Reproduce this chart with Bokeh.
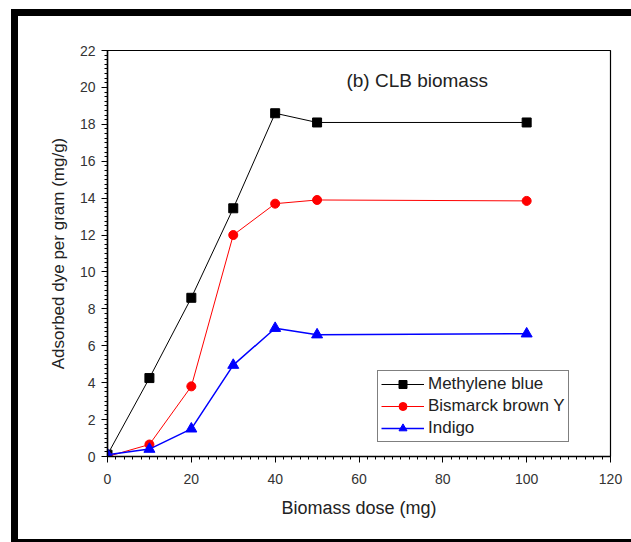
from bokeh.plotting import figure
from bokeh.models import SingleIntervalTicker, Label, Legend, LegendItem
from bokeh.embed import file_html
from bokeh.resources import INLINE

# ---- data ----
dose = [0, 10, 20, 30, 40, 50, 100]
methylene_blue = [0.1, 4.25, 8.6, 13.45, 18.6, 18.1, 18.1]
bismarck_brown = [0.0, 0.65, 3.8, 12.0, 13.7, 13.9, 13.85]
indigo = [0.1, 0.4, 1.5, 4.95, 6.95, 6.6, 6.65]

x_ticks_interval = 20
y_ticks_interval = 2
title_text = "(b) CLB biomass"
x_label = "Biomass dose (mg)"
y_label = "Adsorbed dye per gram (mg/g)"

FONT = "Liberation Sans"

p = figure(width=620, height=533, x_range=(0, 120), y_range=(0, 22),
           output_backend="svg", toolbar_location=None,
           min_border_left=89, min_border_right=28,
           min_border_top=34, min_border_bottom=93)
p.styles = {"margin-left": "11px", "margin-top": "9px", "overflow": "hidden",
            "border-left": "7px solid black", "border-top": "7px solid black",
            "border-bottom": "3px solid black"}

p.grid.visible = False
p.outline_line_color = "black"
p.outline_line_width = 1.2
p.background_fill_color = "white"
p.border_fill_color = "white"

p.xaxis.ticker = SingleIntervalTicker(interval=x_ticks_interval, num_minor_ticks=10)
p.yaxis.ticker = SingleIntervalTicker(interval=y_ticks_interval, num_minor_ticks=8)

for ax in (p.xaxis[0], p.yaxis[0]):
    ax.axis_line_color = "black"
    ax.axis_line_width = 1.5
    ax.major_tick_line_color = "black"
    ax.minor_tick_line_color = "black"
    ax.major_tick_in = 0
    ax.major_tick_out = 6
    ax.minor_tick_in = 0
    ax.minor_tick_out = 3
    ax.major_label_text_font = FONT
    ax.major_label_text_font_size = "14px"
    ax.major_label_text_color = "#333333"
    ax.axis_label_text_font = FONT
    ax.axis_label_text_font_style = "normal"
    ax.axis_label_text_color = "#222222"

p.xaxis.axis_label = x_label
p.yaxis.axis_label = y_label
p.xaxis.axis_label_text_font_size = "18px"
p.yaxis.axis_label_text_font_size = "17px"
p.xaxis.major_label_standoff = 11
p.yaxis.major_label_standoff = 6
p.xaxis.axis_label_standoff = 11
p.yaxis.axis_label_standoff = 9

series = [
    ("Methylene blue", methylene_blue, "black", "square", 9, 1.0),
    ("Bismarck brown Y", bismarck_brown, "red", "circle", 9, 1.0),
    ("Indigo", indigo, "blue", "triangle", 11, 1.5),
]

items = []
for name, ys, color, marker, size, lw in series:
    r1 = p.line(dose, ys, line_color=color, line_width=lw)
    r2 = p.scatter(dose, ys, marker=marker, size=size, fill_color=color, line_color=color)
    items.append(LegendItem(label=name, renderers=[r1, r2]))

legend = Legend(items=items, location=(270, 14))
legend.label_text_font = FONT
legend.label_text_font_size = "17px"
legend.label_text_color = "#222222"
legend.glyph_width = 43
legend.glyph_height = 20
legend.label_height = 20
legend.label_standoff = 4
legend.spacing = 2
legend.padding = 3
legend.margin = 0
legend.border_line_color = "black"
legend.border_line_width = 1.2
legend.background_fill_alpha = 1.0
p.add_layout(legend)

p.add_layout(Label(x=57, y=20.4, text=title_text, text_font=FONT,
                   text_font_size="19px", text_baseline="middle",
                   text_color="#222222"))

open("out.html", "w").write(file_html(p, INLINE))
